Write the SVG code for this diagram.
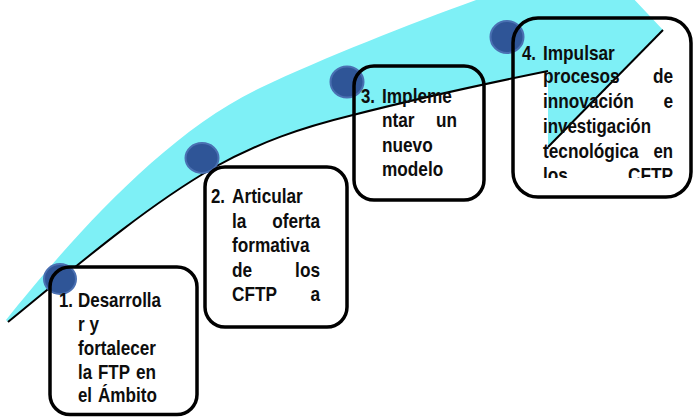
<svg xmlns="http://www.w3.org/2000/svg" width="695" height="417" viewBox="0 0 695 417">
<style>
.t{font-family:"Liberation Sans",Arial,sans-serif;font-weight:bold;font-size:21px;fill:#0d0d0d}
.box{fill:none;stroke:#000;stroke-width:3.5}
.bg{fill:#fff;stroke:none}
.dot{fill:#2F5597;stroke:#4A70B2;stroke-width:2}
.edge{fill:none;stroke:#000;stroke-width:2}
</style>
<defs>
<clipPath id="c4"><rect x="513" y="18" width="178" height="160"/></clipPath>
</defs>
<rect width="695" height="417" fill="#fff"/>
<g id="connectors">
<path d="M6,320 C62,250 160,135 260,88 C330,55 420,20 490,-5 L630,-5 L663,30 L548,147 L548,71 C450,91 400,103 353,115 C300,128 260,142 213,168 C140,210 60,280 8,322 Z" fill="#7EF0F6"/>
<path class="edge" d="M8,322 C60,280 140,210 213,168 C260,142 300,128 353,115 C400,103 450,91 548,71"/>
<path class="edge" d="M548,147 L663,30"/>
</g>
<g id="node1">
<rect class="bg" x="50" y="267" width="147" height="147.5" rx="20"/>
<ellipse class="dot" cx="60" cy="279" rx="16" ry="15"/>
<rect class="box" x="50" y="267" width="147" height="147.5" rx="20"/>
<text class="t" x="59" y="307" textLength="14" lengthAdjust="spacingAndGlyphs">1.</text>
<text class="t" x="78" y="307" textLength="83" lengthAdjust="spacingAndGlyphs">Desarrolla</text>
<text class="t" x="78" y="331" textLength="21" lengthAdjust="spacingAndGlyphs">r y</text>
<text class="t" x="78" y="355" textLength="78" lengthAdjust="spacingAndGlyphs">fortalecer</text>
<text class="t" x="78" y="379" textLength="14" lengthAdjust="spacingAndGlyphs">la</text>
<text class="t" x="98" y="379" textLength="32" lengthAdjust="spacingAndGlyphs">FTP</text>
<text class="t" x="136" y="379" textLength="20" lengthAdjust="spacingAndGlyphs">en</text>
<text class="t" x="78" y="402" textLength="14" lengthAdjust="spacingAndGlyphs">el</text>
<text class="t" x="98" y="402" textLength="59" lengthAdjust="spacingAndGlyphs">Ámbito</text>
</g>
<g id="node2">
<rect class="bg" x="205" y="167" width="142" height="160" rx="20"/>
<ellipse class="dot" cx="202" cy="158" rx="16.5" ry="15"/>
<rect class="box" x="205" y="167" width="142" height="160" rx="20"/>
<text class="t" x="211" y="203" textLength="14" lengthAdjust="spacingAndGlyphs">2.</text>
<text class="t" x="232" y="203" textLength="70.8" lengthAdjust="spacingAndGlyphs">Articular</text>
<text class="t" x="232" y="227.5" textLength="14.4" lengthAdjust="spacingAndGlyphs">la</text>
<text class="t" x="272.2" y="227.5" textLength="47.8" lengthAdjust="spacingAndGlyphs">oferta</text>
<text class="t" x="232" y="252" textLength="77.5" lengthAdjust="spacingAndGlyphs">formativa</text>
<text class="t" x="232" y="276.5" textLength="20.1" lengthAdjust="spacingAndGlyphs">de</text>
<text class="t" x="295.1" y="276.5" textLength="24.9" lengthAdjust="spacingAndGlyphs">los</text>
<text class="t" x="232" y="301" textLength="45" lengthAdjust="spacingAndGlyphs">CFTP</text>
<text class="t" x="310.4" y="301" textLength="9.6" lengthAdjust="spacingAndGlyphs">a</text>
</g>
<g id="node3">
<ellipse class="dot" cx="347" cy="82" rx="16.5" ry="15.5"/>
<rect class="box" x="354" y="66" width="130" height="134" rx="20"/>
<text class="t" x="361" y="103" textLength="14" lengthAdjust="spacingAndGlyphs">3.</text>
<text class="t" x="382" y="103" textLength="69.9" lengthAdjust="spacingAndGlyphs">Impleme</text>
<text class="t" x="382" y="127" textLength="32.5" lengthAdjust="spacingAndGlyphs">ntar</text>
<text class="t" x="436" y="127" textLength="21" lengthAdjust="spacingAndGlyphs">un</text>
<text class="t" x="382" y="152" textLength="50.7" lengthAdjust="spacingAndGlyphs">nuevo</text>
<text class="t" x="382" y="176" textLength="61.2" lengthAdjust="spacingAndGlyphs">modelo</text>
</g>
<g id="node4">
<ellipse class="dot" cx="507" cy="37" rx="16.5" ry="16"/>
<rect class="box" x="513" y="18" width="178" height="179" rx="25"/>
<text class="t" x="522" y="60" textLength="14" lengthAdjust="spacingAndGlyphs">4.</text>
<text class="t" x="543" y="60" textLength="71.8" lengthAdjust="spacingAndGlyphs">Impulsar</text>
<text class="t" x="543" y="83" textLength="76.6" lengthAdjust="spacingAndGlyphs">procesos</text>
<text class="t" x="652.9" y="83" textLength="20.1" lengthAdjust="spacingAndGlyphs">de</text>
<text class="t" x="543" y="107.5" textLength="90.9" lengthAdjust="spacingAndGlyphs">innovación</text>
<text class="t" x="663.4" y="107.5" textLength="9.6" lengthAdjust="spacingAndGlyphs">e</text>
<text class="t" x="543" y="132.5" textLength="108" lengthAdjust="spacingAndGlyphs">investigación</text>
<text class="t" x="543" y="157.5" textLength="95.7" lengthAdjust="spacingAndGlyphs">tecnológica</text>
<text class="t" x="653.5" y="157.5" textLength="19.5" lengthAdjust="spacingAndGlyphs">en</text>
<g clip-path="url(#c4)">
<text class="t" x="543" y="182" textLength="24.9" lengthAdjust="spacingAndGlyphs">los</text>
<text class="t" x="628" y="182" textLength="45" lengthAdjust="spacingAndGlyphs">CFTP</text>
</g>
</g>
</svg>
